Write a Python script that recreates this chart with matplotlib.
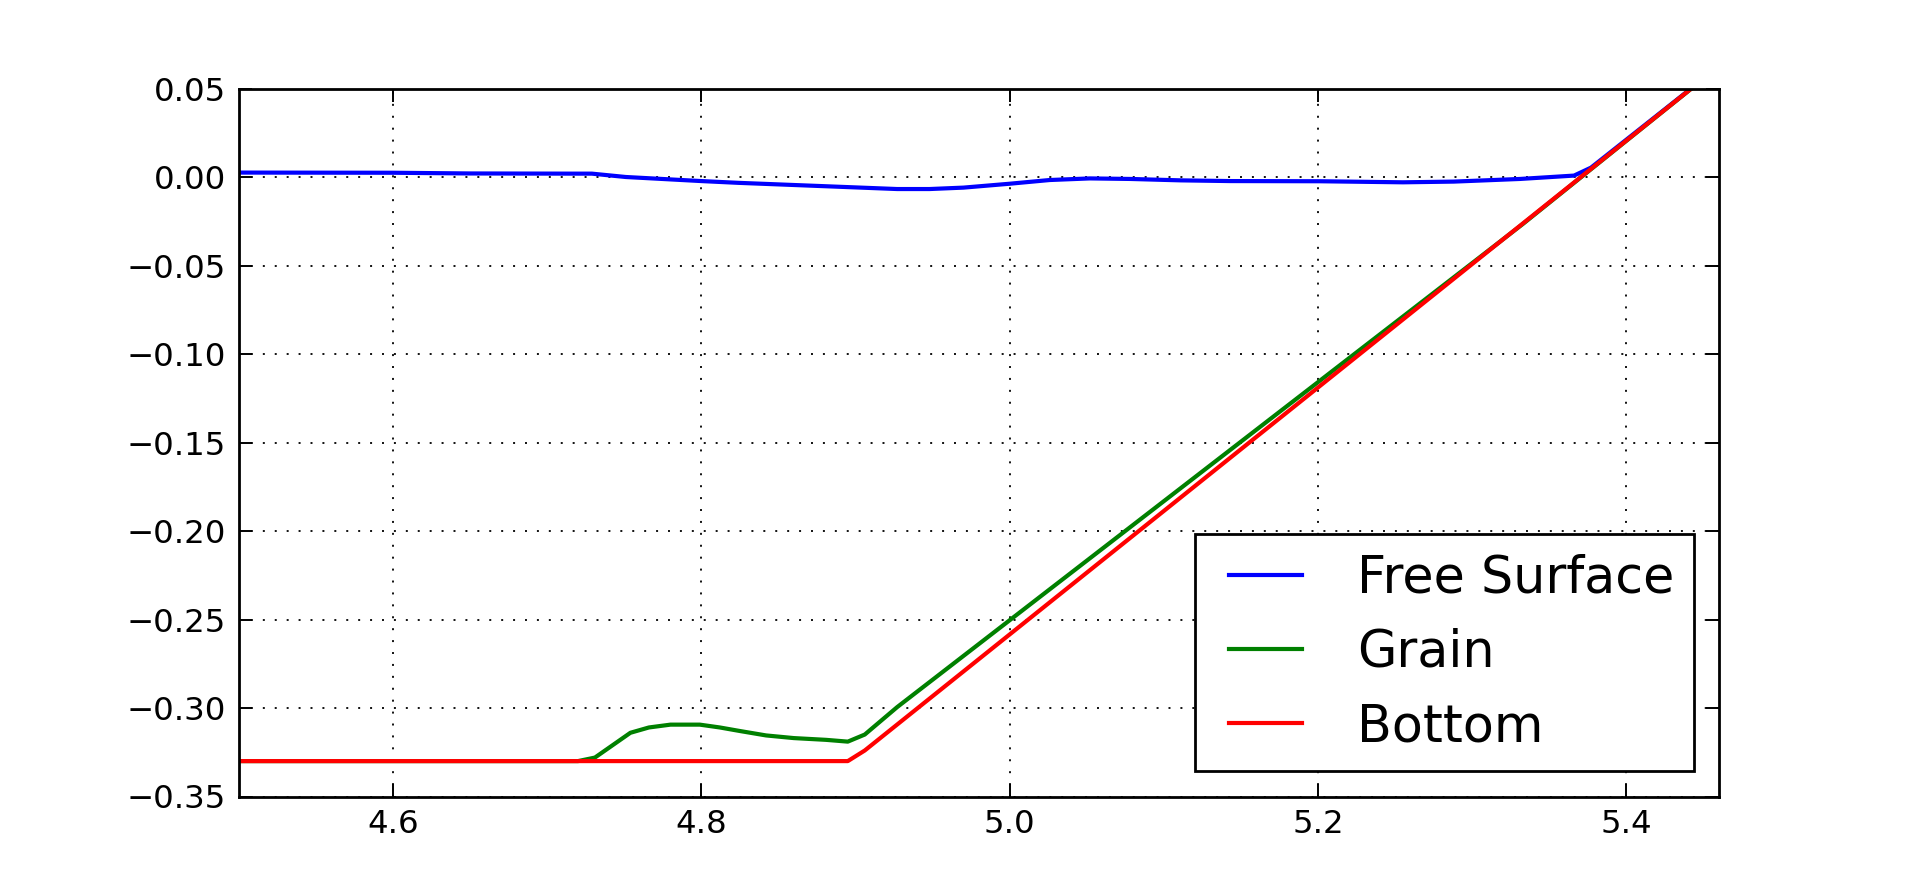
import numpy as np
import matplotlib
matplotlib.use('Agg')
from matplotlib import pyplot as plt
from matplotlib.legend_handler import HandlerLine2D

# free surface elevation
surf_x = [4.50, 4.60, 4.65, 4.716, 4.729, 4.751, 4.80, 4.824, 4.883, 4.927, 4.948,
          4.970, 5.000, 5.026, 5.052, 5.078, 5.111, 5.143, 5.201, 5.255, 5.288,
          5.331, 5.366, 5.377, 5.46]
surf_y = [0.0025, 0.0024, 0.0020, 0.0019, 0.0019, 0.0000, -0.0023, -0.0033, -0.0053,
          -0.0068, -0.0068, -0.0060, -0.0038, -0.0017, -0.0008, -0.0011, -0.0019,
          -0.0023, -0.0024, -0.0030, -0.0026, -0.0011, 0.0008, 0.0053, 0.0625]

# grain layer
grain_x = [4.50, 4.72, 4.731, 4.754, 4.766, 4.780, 4.799, 4.812, 4.825, 4.842, 4.860,
           4.881, 4.895, 4.906, 4.927, 5.333, 5.46]
grain_y = [-0.330, -0.330, -0.328, -0.314, -0.311, -0.3094, -0.3094, -0.311, -0.313,
           -0.3155, -0.317, -0.318, -0.319, -0.315, -0.2995, -0.0264, 0.0625]

# bed
bottom_x = [4.50, 4.895, 4.906, 5.46]
bottom_y = [-0.330, -0.330, -0.324, 0.0625]


class ShortLine(HandlerLine2D):
    # legend line that leaves a bit of space on its left
    def create_artists(self, legend, orig_handle, xdescent, ydescent, width,
                       height, fontsize, trans):
        arts = super().create_artists(legend, orig_handle, xdescent, ydescent,
                                      width, height, fontsize, trans)
        x0 = -xdescent
        ym = (height - ydescent) / 2
        arts[0].set_data([x0 + 0.17 * width, x0 + width], [ym, ym])
        return arts


fig = plt.figure(figsize=(19.1, 8.85), dpi=100, facecolor='white')
ax = fig.add_axes([0.125, 0.1, 0.775, 0.8])

ax.plot(surf_x, surf_y, color='b', lw=3.0, label='Free Surface')
ax.plot(grain_x, grain_y, color='g', lw=3.0, label='Grain')
ax.plot(bottom_x, bottom_y, color='r', lw=3.0, label='Bottom')

ax.set_xlim(4.5, 5.46)
ax.set_ylim(-0.35, 0.05)
ax.set_xticks([4.6, 4.8, 5.0, 5.2, 5.4])
ax.set_yticks(np.arange(-0.35, 0.051, 0.05))
ax.set_xticklabels(['4.6', '4.8', '5.0', '5.2', '5.4'])
ax.set_yticklabels(['\u22120.35', '\u22120.30', '\u22120.25', '\u22120.20', '\u22120.15',
                    '\u22120.10', '\u22120.05', '0.00', '0.05'])

ax.grid(True, color='k', linestyle=(0, (1.1, 5.5)), linewidth=1.3)
ax.tick_params(direction='in', length=9.5, width=1.4, pad=9, labelsize=23.3,
               top=True, right=True)
for sp in ax.spines.values():
    sp.set_linewidth(2.0)

leg = ax.legend(loc='lower right', fontsize=36.5, handlelength=1.74,
                handletextpad=1.08, labelspacing=0.48, borderpad=0.377,
                borderaxespad=0.5, fancybox=False, framealpha=1,
                handler_map={plt.Line2D: ShortLine()})
leg.get_frame().set_edgecolor('k')
leg.get_frame().set_linewidth(2.0)

fig.savefig('out.png', dpi=100, facecolor='white')
